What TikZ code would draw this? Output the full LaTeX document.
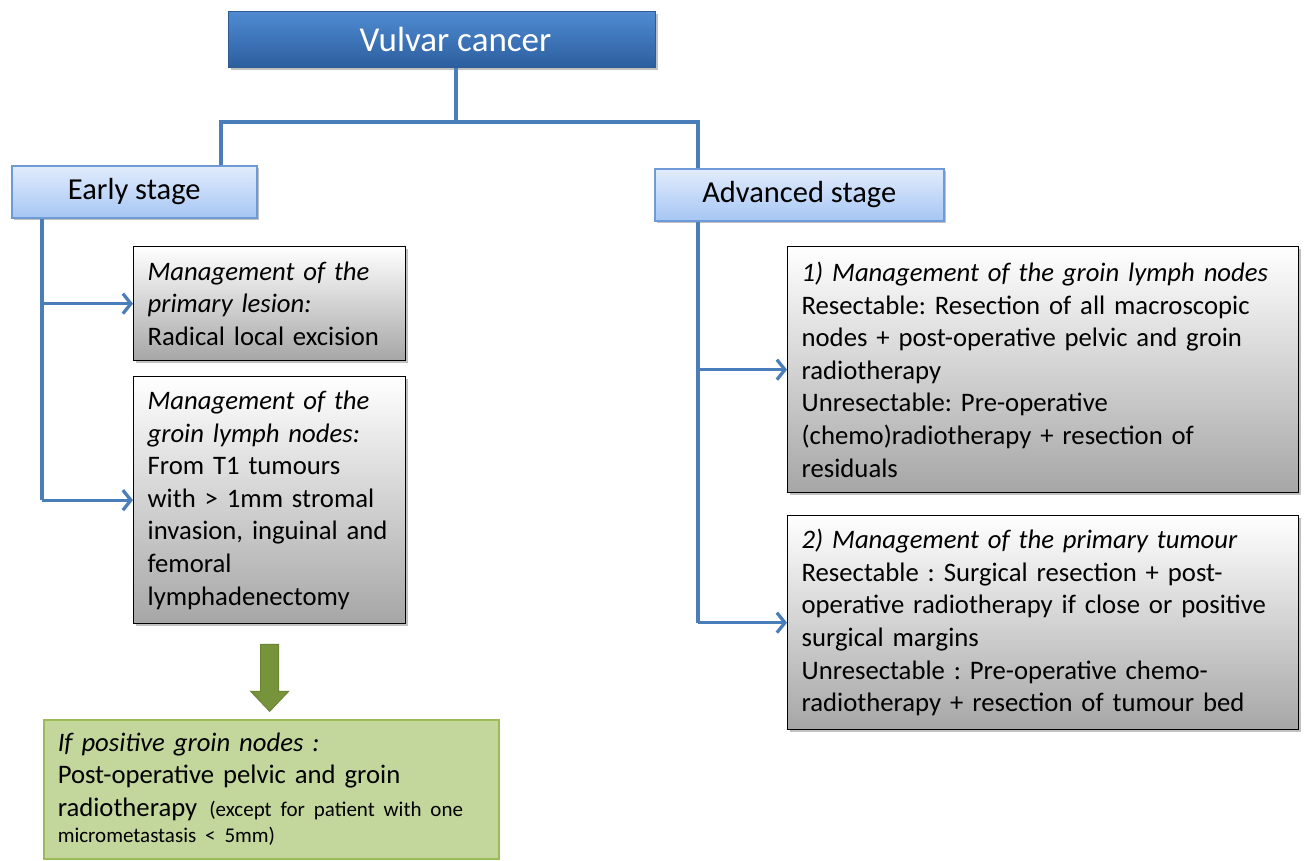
\documentclass[tikz,border=0pt]{standalone}
\usepackage{fontspec}
\setmainfont{Carlito}
\frenchspacing
\usetikzlibrary{arrows.meta,shadows,calc}
\definecolor{lineblue}{HTML}{4A7EBB}
\definecolor{titletop}{HTML}{4F8BD2}
\definecolor{titlebot}{HTML}{2C5E9E}
\definecolor{titleedge}{HTML}{2F5B93}
\definecolor{stagetop}{HTML}{E2ECFC}
\definecolor{stagebot}{HTML}{A6C6F4}
\definecolor{stageedge}{HTML}{6E9BD6}
\definecolor{graybot}{HTML}{A6A6A6}
\definecolor{greenfill}{HTML}{C3D69B}
\definecolor{greenedge}{HTML}{9BBB59}
\definecolor{arrowgreen}{HTML}{77933C}
\definecolor{arrowedge}{HTML}{6A8634}
\tikzset{
  shade/.style={drop shadow={shadow xshift=2pt,shadow yshift=-2.5pt,opacity=0.35,fill=black!70}},
  titlebox/.style={shade,draw=titleedge,line width=1pt,top color=titletop,bottom color=titlebot,
    text=white,font=\fontsize{35}{40}\selectfont,anchor=north west,inner sep=0pt},
  stagebox/.style={shade,draw=stageedge,line width=1.5pt,top color=stagetop,bottom color=stagebot,
    font=\fontsize{30.5}{36}\selectfont,anchor=north west,inner sep=0pt},
  graybox/.style={shade,draw=black,line width=1.3pt,top color=white,bottom color=graybot,
    font=\fontsize{26.7}{32.6}\selectfont,anchor=north west,align=left,inner xsep=14pt,inner ysep=0pt},
  greenbox/.style={draw=greenedge,line width=1.5pt,fill=greenfill,
    font=\fontsize{26.7}{32.6}\selectfont,anchor=north west,align=left,inner xsep=14pt,inner ysep=0pt},
  conn/.style={draw=lineblue,line width=3.3pt},
  arr/.style={conn,-{Straight Barb[length=8pt,width=20pt,line width=3.3pt]}}
}
\begin{document}
\begin{tikzpicture}[x=1pt,y=-1pt]
\useasboundingbox (0,0) rectangle (1304,860);

\node[titlebox,minimum width=427pt,minimum height=56pt] (title) at (228,11) {\hspace*{27pt}Vulvar cancer};
\node[stagebox,minimum width=245pt,minimum height=52pt] (early) at (11,165) {Early stage};
\node[stagebox,minimum width=289pt,minimum height=52pt] (adv) at (654,168) {Advanced stage};

\node[graybox,text width=244pt,minimum height=114pt] (pl) at (133,246)
 {\textit{Management of the}\\\textit{primary lesion:}\\Radical local excision};
\node[graybox,text width=244pt,minimum height=247pt] (gl) at (133,376)
 {\textit{Management of the}\\\textit{groin lymph nodes:}\\From T1 tumours\\with > 1mm stromal\\invasion, inguinal and\\femoral\\lymphadenectomy};
\node[graybox,text width=483pt,minimum height=246pt] (a1) at (787,246)
 {\textit{1) Management of the groin lymph nodes}\\Resectable: Resection of all macroscopic\\nodes + post-operative pelvic and groin\\radiotherapy\\Unresectable: Pre-operative\\(chemo)radiotherapy + resection of\\residuals};
\node[graybox,text width=483pt,minimum height=214pt] (a2) at (787,515)
 {\textit{2) Management of the primary tumour}\\Resectable : Surgical resection + post-\\operative radiotherapy if close or positive\\surgical margins\\Unresectable : Pre-operative chemo-\\radiotherapy + resection of tumour bed};

\node[greenbox,text width=427pt,minimum height=139pt] (pos) at (43,719)
 {\textit{If positive groin nodes :}\\Post-operative pelvic and groin\\radiotherapy\hspace{12pt}{\fontsize{21}{26}\selectfont(except for patient with one}\\[-6pt]{\fontsize{21}{26}\selectfont micrometastasis < 5mm)}};

% top connectors
\coordinate (ts) at ($(title.south)+(14,0)$);
\coordinate (jl) at (221,122);
\coordinate (jr) at (698,122);
\draw[conn] (ts) -- (ts |- jl);
\draw[conn] (jl |- early.north) -- (jl) -- (jr) -- (jr |- adv.north);

% early stage connectors
\coordinate (ex) at (42,0);
\draw[conn] (ex |- early.south) -- (ex |- gl.west);
\draw[arr] (ex |- pl.west) -- (pl.west);
\draw[arr] (ex |- gl.west) -- (gl.west);

% advanced stage connectors
\coordinate (ax) at (698,0);
\draw[conn] (ax |- adv.south) -- (ax |- a2.west);
\draw[arr] (ax |- a1.west) -- (a1.west);
\draw[arr] (ax |- a2.west) -- (a2.west);

% green block arrow
\fill[arrowgreen,draw=arrowedge,line width=1pt]
  ($(gl.south)+(-9,20)$) -- ($(gl.south)+(9,20)$) -- ($(gl.south)+(9,67)$) -- ($(gl.south)+(19,67)$)
  -- ($(gl.south)+(0,87)$) -- ($(gl.south)+(-19,67)$) -- ($(gl.south)+(-9,67)$) -- cycle;
\end{tikzpicture}
\end{document}
